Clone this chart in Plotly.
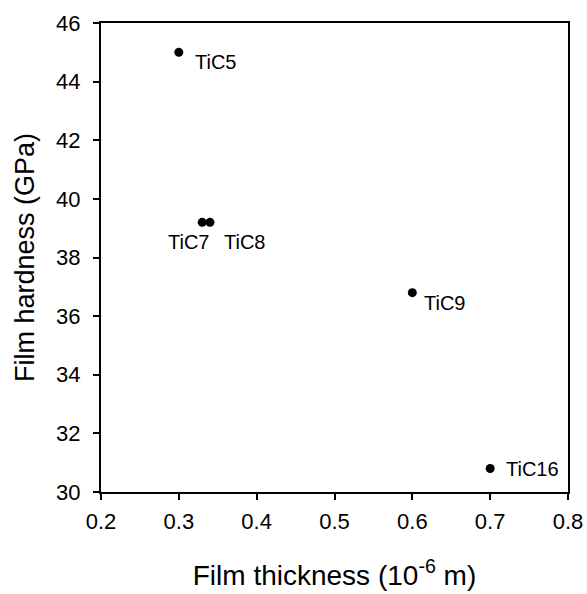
import plotly.graph_objects as go

samples = ["TiC5", "TiC7", "TiC8", "TiC9", "TiC16"]
thickness = [0.30, 0.33, 0.34, 0.60, 0.70]
hardness = [45.0, 39.2, 39.2, 36.8, 30.8]
x_ticks = [0.2, 0.3, 0.4, 0.5, 0.6, 0.7, 0.8]
x_tick_labels = ["0.2", "0.3", "0.4", "0.5", "0.6", "0.7", "0.8"]
y_ticks = [30, 32, 34, 36, 38, 40, 42, 44, 46]

# label placement (pixel shifts) relative to each point
label_offsets = {
    "TiC5": (14, -10, "left"),
    "TiC7": (9, -20, "right"),
    "TiC8": (12, -20, "left"),
    "TiC9": (10, -10, "left"),
    "TiC16": (14, 0, "left"),
}

FONT = "Liberation Sans"

fig = go.Figure()
fig.add_trace(go.Scatter(
    x=thickness, y=hardness, mode="markers",
    marker=dict(color="black", size=9),
    showlegend=False, hoverinfo="skip",
))

for name, xv, yv in zip(samples, thickness, hardness):
    dx, dy, anc = label_offsets[name]
    fig.add_annotation(x=xv, y=yv, text=name, showarrow=False,
                       xanchor=anc, yanchor="middle", xshift=dx, yshift=dy,
                       font=dict(family=FONT, size=20, color="black"))

axis_common = dict(
    showline=True, linecolor="black", linewidth=2, mirror=True,
    ticks="outside", ticklen=6, tickwidth=1.5, tickcolor="black",
    showgrid=False, zeroline=False,
    tickfont=dict(family=FONT, size=22, color="black"),
    ticklabeloverflow="allow",
)

fig.update_xaxes(range=[0.2, 0.8], tickvals=x_ticks, ticktext=x_tick_labels,
                 ticklabelstandoff=3,
                 title=dict(text="Film thickness (10<sup>-6</sup> m)",
                            font=dict(family=FONT, size=28, color="black"),
                            standoff=32),
                 **axis_common)
fig.update_yaxes(range=[30, 46], tickvals=y_ticks,
                 ticklabelstandoff=8,
                 title=dict(text="Film hardness (GPa)",
                            font=dict(family=FONT, size=27, color="black"),
                            standoff=14),
                 **axis_common)

fig.update_layout(
    width=587, height=594,
    margin=dict(l=101, r=19, t=23, b=102, autoexpand=False),
    plot_bgcolor="white", paper_bgcolor="white",
)

fig.write_html("out.html",
               config={"displayModeBar": False},
               post_script="document.body.style.margin='0px';"
                           "document.body.style.overflow='hidden';")
